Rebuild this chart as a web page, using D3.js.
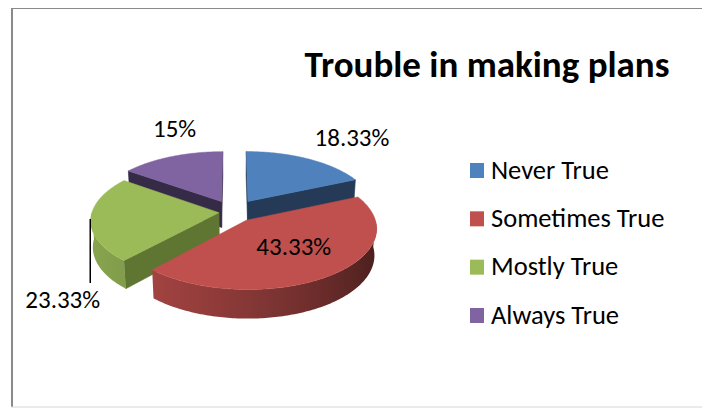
<!DOCTYPE html>
<html>
<head>
<meta charset="utf-8">
<script src="https://cdn.jsdelivr.net/npm/d3@7"></script>
<style>
  html, body { margin: 0; padding: 0; background: #ffffff; }
  svg { display: block; }
  text { font-family: Carlito, Lato, "Open Sans", sans-serif; fill: #000; }
</style>
</head>
<body>
<svg id="chart" width="702" height="408"></svg>
<script>
// Survey answers for "Trouble in making plans"
const title = "Trouble in making plans";
const categories = ["Never True", "Sometimes True", "Mostly True", "Always True"];
const percents = [18.33, 43.33, 23.33, 15];
const sliceColors = ["#4f81bd", "#c0504d", "#9bbb59", "#8064a2"];
const cutColors = ["#243a56", "#5a201f", "#5e7632", "#362b46"];

const svg = d3.select("#chart");
const W = 702, Hpx = 408;
const defs = svg.append("defs");

// frame
svg.append("rect").attr("width", W).attr("height", Hpx).attr("fill", "#fff");
svg.append("line").attr("x1", 12).attr("x2", 12).attr("y1", 8).attr("y2", 407)
  .attr("stroke", "#8a8a8a").attr("stroke-width", 2);
svg.append("line").attr("x1", 11).attr("x2", W).attr("y1", 8.5).attr("y2", 8.5)
  .attr("stroke", "#8a8a8a").attr("stroke-width", 1);
svg.append("line").attr("x1", 11).attr("x2", W).attr("y1", 407).attr("y2", 407)
  .attr("stroke", "#d6d6d6").attr("stroke-width", 1);

// title
svg.append("text")
  .attr("x", 487).attr("y", 77)
  .attr("text-anchor", "middle")
  .style("font-weight", "bold").style("font-size", "37px")
  .text(title);

// ---- 3D pie geometry ----
const R = 127;            // disc radius
const depth = 30;         // disc thickness
const elev = 27.4 * Math.PI / 180;
const camDist = 918;      // perspective distance
const cx = 233, cy = 212; // screen position of the disc centre (top face)
const sinE = Math.sin(elev), cosE = Math.cos(elev);
const explode = [28, 22, 14, 26];

function project(X, Y, Z) {
  const s = camDist / (camDist - (Z * cosE + Y * sinE));
  return [cx + X * s, cy + (Z * sinE - Y * cosE) * s];
}

const arcs = d3.pie().sort(null).value(d => d)(percents);
const color = d3.scaleOrdinal(categories, sliceColors);
const cutColor = d3.scaleOrdinal(categories, cutColors);

const slices = arcs.map((a, i) => {
  const mid = (a.startAngle + a.endAngle) / 2;
  return {
    i, a, mid,
    name: categories[i],
    value: percents[i],
    ox: explode[i] * Math.sin(mid),
    oz: -explode[i] * Math.cos(mid)
  };
});

function rim(sl, ang, r, Y) {
  return project(sl.ox + r * Math.sin(ang), Y, sl.oz - r * Math.cos(ang));
}
function apex(sl, Y) { return project(sl.ox, Y, sl.oz); }

const line = d3.line();
const step = Math.PI / 180;
function arcPoints(sl, a0, a1, r, Y) {
  const n = Math.max(2, Math.ceil((a1 - a0) / step));
  return d3.range(n + 1).map(k => rim(sl, a0 + (a1 - a0) * k / n, r, Y));
}

// shading of the curved wall, lit from the left front
const lightAng = 250 * Math.PI / 180;
function wallColor(base, ang) {
  const f = 0.6 + 0.27 * Math.cos(ang - lightAng);
  const c = d3.rgb(base);
  return d3.rgb(c.r * f, c.g * f, c.b * f).formatHex();
}

const camPos = [0, camDist * sinE, camDist * cosE];
function faceVisible(sl, normalAng) {
  const n = [Math.sin(normalAng), 0, -Math.cos(normalAng)];
  const p = [sl.ox - camPos[0], 0 - camPos[1], sl.oz - camPos[2]];
  return -(n[0] * p[0] + n[1] * p[1] + n[2] * p[2]) > 0;
}

const pieG = svg.append("g");
// back slices first
const order = slices.slice().sort((p, q) => p.oz - q.oz);

order.forEach(sl => {
  const g = pieG.append("g");
  const a0 = sl.a.startAngle, a1 = sl.a.endAngle;

  // flat cut faces
  [[a0, a0 - Math.PI / 2], [a1, a1 + Math.PI / 2]].forEach(([ang, nAng]) => {
    if (!faceVisible(sl, nAng)) return;
    const pts = [apex(sl, 0), rim(sl, ang, R, 0), rim(sl, ang, R, -depth), apex(sl, -depth)];
    g.append("path").attr("d", line(pts) + "Z")
      .attr("fill", cutColor(sl.name)).attr("stroke", cutColor(sl.name)).attr("stroke-width", 0.6);
  });

  // curved outer wall (front half only), shaded by a horizontal gradient
  const w0 = Math.max(a0, Math.PI / 2), w1 = Math.min(a1, 3 * Math.PI / 2);
  if (w1 > w0) {
    const topEdge = arcPoints(sl, w0, w1, R, 0);
    const botEdge = arcPoints(sl, w0, w1, R, -depth).reverse();
    const xs = topEdge.map(p => p[0]);
    const xMin = d3.min(xs), xMax = d3.max(xs);
    const gid = "wall" + sl.i;
    const grad = defs.append("linearGradient").attr("id", gid)
      .attr("gradientUnits", "userSpaceOnUse")
      .attr("x1", xMin).attr("x2", xMax).attr("y1", 0).attr("y2", 0);
    const nStops = 16;
    d3.range(nStops + 1).map(k => w0 + (w1 - w0) * k / nStops)
      .map(t => ({ x: rim(sl, t, R, 0)[0], c: wallColor(color(sl.name), t) }))
      .sort((p, q) => p.x - q.x)
      .forEach(s => grad.append("stop")
        .attr("offset", ((s.x - xMin) / (xMax - xMin || 1)).toFixed(4))
        .attr("stop-color", s.c));
    g.append("path").attr("d", line(topEdge.concat(botEdge)) + "Z")
      .attr("fill", `url(#${gid})`);
  }

  // top face
  const top = [apex(sl, 0)].concat(arcPoints(sl, a0, a1, R, 0));
  g.append("path").attr("d", line(top) + "Z")
    .attr("fill", color(sl.name)).attr("stroke", color(sl.name)).attr("stroke-width", 0.5);
});

// ---- data labels ----
const fmt = v => `${+v.toFixed(2)}%`;
// [radius factor, dx, dy] relative to the point on the slice at its mid angle
const labelPlace = [[1, 44, -13], [0.58, 0, 5], [1, -28, 89], [1, 3, -20]];
const labelG = svg.append("g").style("font-size", "25px");
slices.forEach(sl => {
  const [rf, dx, dy] = labelPlace[sl.i];
  const [px, py] = rim(sl, sl.mid, R * rf, 0);
  labelG.append("text")
    .attr("x", px + dx).attr("y", py + dy)
    .attr("text-anchor", "middle")
    .text(fmt(sl.value));
  if (sl.i === 2) {
    labelG.append("line")
      .attr("x1", px - 0.5).attr("x2", px - 0.5)
      .attr("y1", py).attr("y2", py + dy - 25)
      .attr("stroke", "#000").attr("stroke-width", 1.5);
  }
});

// ---- legend ----
const legendY = d3.scalePoint().domain(categories).range([163, 308]);
const legend = svg.append("g").style("font-size", "26.5px");
categories.forEach(c => {
  const y = legendY(c);
  legend.append("rect").attr("x", 470).attr("y", y).attr("width", 14).attr("height", 15)
    .attr("fill", color(c));
  legend.append("text").attr("x", 491).attr("y", y + 15.5).text(c);
});
</script>
</body>
</html>
